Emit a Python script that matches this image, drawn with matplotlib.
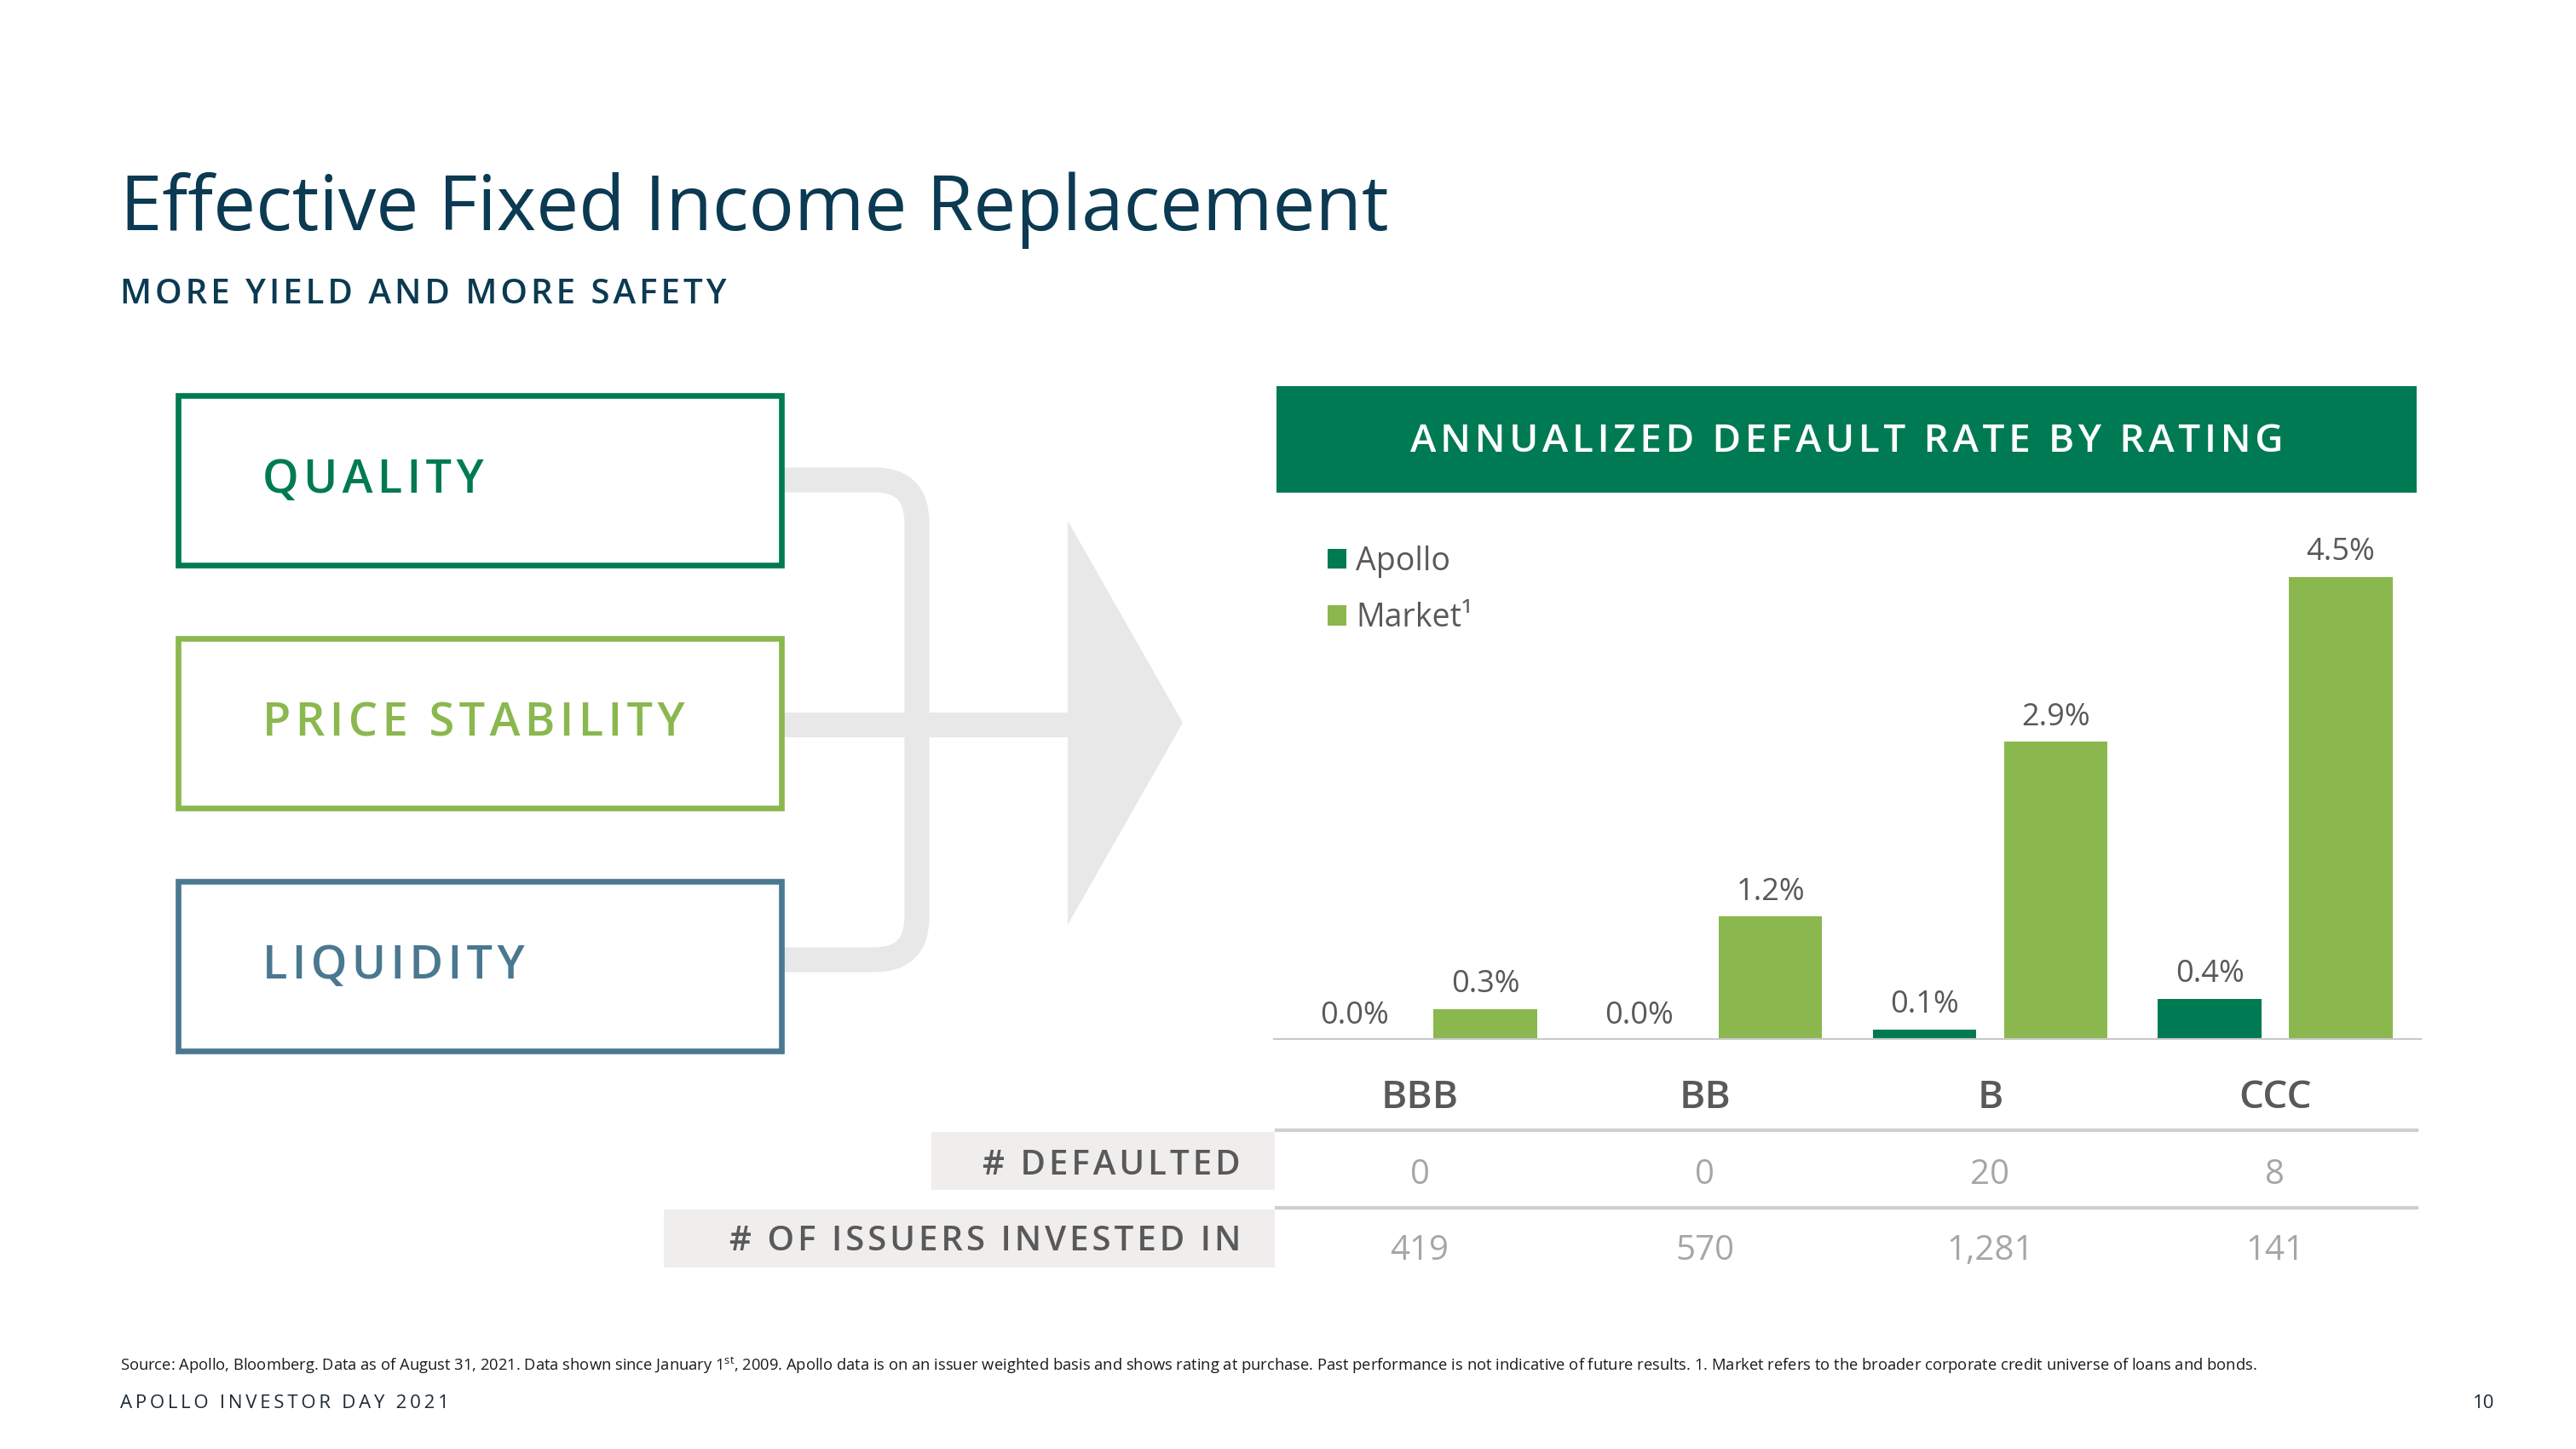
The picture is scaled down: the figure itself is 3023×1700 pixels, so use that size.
"""
Apollo Investor Day 2021 - Effective Fixed Income Replacement
"""

import numpy as np
import matplotlib
matplotlib.use('Agg')
import matplotlib.pyplot as plt
import matplotlib.transforms as mtransforms
from matplotlib.patches import Rectangle, Polygon, PathPatch
from matplotlib.path import Path

plt.rcParams['font.family'] = ['Open Sans', 'DejaVu Sans']
plt.rcParams['mathtext.fontset'] = 'custom'
plt.rcParams['mathtext.rm'] = 'Open Sans'

# data
ratings = ['BBB', 'BB', 'B', 'CCC']
apollo = [0.0, 0.0, 0.1, 0.4]
market = [0.3, 1.2, 2.9, 4.5]
defaulted = ['0', '0', '20', '8']
issuers = ['419', '570', '1,281', '141']
pillars = ['QUALITY', 'PRICE STABILITY', 'LIQUIDITY']

# colours
DKGREEN = '#007a53'
LTGREEN = '#8ab84f'
BLUE = '#4a7890'
NAVY = '#0b3a52'
GRAY = '#595959'
LTGRAY = '#a6a6a6'
W, H = 3023, 1700

HAIR = '\u200a'
THIN = '\u2009'


def track(s, sep=HAIR):
    # letter spacing by putting narrow spaces between the characters
    return sep.join(s)


def fy(py):
    return 1 - py / H


fig = plt.figure(figsize=(W / 100, H / 100), dpi=100)
bg = fig.add_axes([0, 0, 1, 1])
bg.set_xlim(0, W)
bg.set_ylim(H, 0)
bg.axis('off')

# title
fig.text(141 / W, fy(270), 'Effective Fixed Income Replacement', fontsize=64,
         color=NAVY, va='baseline')
fig.text(141 / W, fy(356), track('MORE YIELD AND MORE SAFETY'), fontsize=29,
         fontweight='semibold', color=NAVY, va='baseline')

# connector + arrow
r = 50
verts = [(900, 563), (1076 - r, 563), (1076, 563), (1076, 563 + r),
         (1076, 1126 - r), (1076, 1126), (1076 - r, 1126), (900, 1126)]
codes = [Path.MOVETO, Path.LINETO, Path.CURVE3, Path.CURVE3,
         Path.LINETO, Path.CURVE3, Path.CURVE3, Path.LINETO]
bg.add_patch(PathPatch(Path(verts, codes), fill=False, lw=21, ec='#e8e8e8',
                       capstyle='butt', zorder=1))
bg.plot([900, 1256], [850, 850], color='#e8e8e8', lw=21,
        solid_capstyle='butt', zorder=1)
bg.add_patch(Polygon([(1253, 611), (1388, 848), (1253, 1085)],
                     closed=True, fc='#e8e8e8', ec='none', zorder=1))

# pillar boxes
box_tops = [464, 749, 1034]
box_cols = [DKGREEN, LTGREEN, BLUE]
for name, top, col in zip(pillars, box_tops, box_cols):
    bg.add_patch(Rectangle((209, top), 708, 199, fc='white', ec=col,
                           lw=4.8, zorder=2))
    bg.text(308, top + 100, track(name), fontsize=39,
            fontweight='semibold', color=col, va='center', zorder=3)

# chart banner
bg.add_patch(Rectangle((1498, 453), 1338, 125, fc=DKGREEN, ec='none'))
bg.text(2167, 518, track('ANNUALIZED DEFAULT RATE BY RATING'), fontsize=33,
        fontweight='semibold', color='white', ha='center', va='center')

# bar chart
ax = fig.add_axes([1494 / W, fy(1220), (2842 - 1494) / W, (1220 - 620) / H])
ax.patch.set_alpha(0)
x = np.arange(len(ratings))
bw = 0.363
off = 0.23
ax.bar(x - off, apollo, bw, color=DKGREEN, label='Apollo')
ax.bar(x + off, market, bw, color=LTGREEN, label='Market\u00b9')
for xi, v in zip(x - off, apollo):
    ax.annotate(f'{v:.1f}%', (xi, v), xytext=(0, 14), textcoords='offset points',
                ha='center', va='baseline', fontsize=26, color=GRAY)
for xi, v in zip(x + off, market):
    ax.annotate(f'{v:.1f}%', (xi, v), xytext=(0, 14), textcoords='offset points',
                ha='center', va='baseline', fontsize=26, color=GRAY)
ax.set_xlim(-0.514, 3.514)
ax.set_ylim(0, (1220 - 620) / 120.7)
ax.axhline(0, color='#c8c8c8', lw=3)
for s in ax.spines.values():
    s.set_visible(False)
ax.set_xticks([])
ax.set_yticks([])

leg = ax.legend(loc='upper left', bbox_to_anchor=(1558 / W, fy(640)),
                bbox_transform=fig.transFigure, frameon=False, fontsize=27,
                handlelength=0.58, handleheight=0.58, handletextpad=0.3,
                labelspacing=0.75, borderpad=0, borderaxespad=0)
for t in leg.get_texts():
    t.set_color(GRAY)

# category labels + table
trans = mtransforms.blended_transform_factory(ax.transData, fig.transFigure)
for xi, lab, d, n in zip(x, ratings, defaulted, issuers):
    ax.text(xi, fy(1300), lab, transform=trans, ha='center', va='baseline',
            fontsize=33, fontweight='semibold', color=GRAY)
    ax.text(xi, fy(1389), d, transform=trans, ha='center', va='baseline',
            fontsize=29, color=LTGRAY)
    ax.text(xi, fy(1478), n, transform=trans, ha='center', va='baseline',
            fontsize=29, color=LTGRAY)

bg.plot([1498, 2836], [1326, 1326], color='#cfcfcf', lw=3)
bg.plot([1498, 2836], [1417, 1417], color='#cfcfcf', lw=3)
bg.add_patch(Rectangle((1093, 1328), 403, 68, fc='#efeeec', ec='none'))
bg.add_patch(Rectangle((779, 1419), 717, 68, fc='#efeeec', ec='none'))
bg.text(1456, 1378, track('# DEFAULTED'), fontsize=29, fontweight='semibold',
        color=GRAY, ha='right', va='baseline')
bg.text(1456, 1467, track('# OF ISSUERS INVESTED IN'), fontsize=29,
        fontweight='semibold', color=GRAY, ha='right', va='baseline')

# footer
src = ('Source: Apollo, Bloomberg. Data as of August 31, 2021. Data shown since '
       'January 1$^{\\mathrm{st}}$, 2009. Apollo data is on an issuer weighted basis '
       'and shows rating at purchase. Past performance is not indicative of future '
       'results. 1. Market refers to the broader corporate credit universe of '
       'loans and bonds.')
fig.text(141 / W, fy(1608), src, fontsize=13.2, color='#1a1a1a', va='baseline')
fig.text(141 / W, fy(1652), track('APOLLO INVESTOR DAY 2021', THIN), fontsize=16,
         color='#1f2a33', va='baseline')
fig.text(2927 / W, fy(1652), '10', fontsize=16, color='#1f2a33',
         ha='right', va='baseline')

plt.savefig('out.png', dpi=100)
